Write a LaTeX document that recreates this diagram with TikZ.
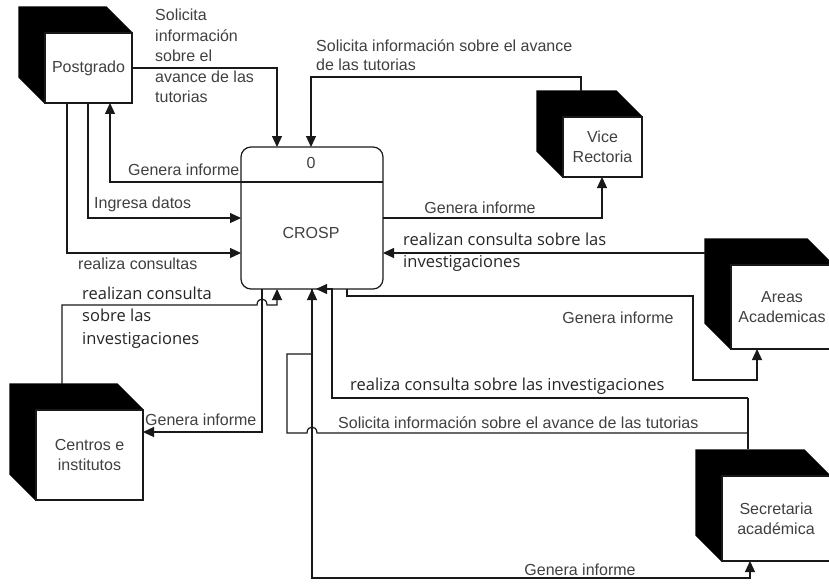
\documentclass[tikz,border=0pt]{standalone}
\usepackage{fontspec}
\setmainfont{Liberation Sans}
\newfontfamily\labelfont{Open Sans}
\usetikzlibrary{arrows.meta,calc}
\pgfdeclarelayer{back}
\pgfsetlayers{back,main}

\tikzset{
  flow/.style={draw=black!90, line width=1.2pt},
  arr/.style={flow, -{Triangle[length=11pt,width=10pt]}},
  entity/.style={draw=black!90, line width=1.2pt, fill=white, inner sep=0pt,
    text=black!75, font=\fontsize{16}{20}\selectfont, align=center},
  process/.style={draw=black!90, line width=1.2pt, rounded corners=10pt,
    inner sep=0pt, minimum width=142pt, minimum height=142pt},
  lbl/.style={text=black!75, font=\fontsize{16}{20}\selectfont, inner sep=0pt, align=left},
  lbl2/.style={text=black!85, font=\labelfont\fontsize{16.5}{22.5}\selectfont, inner sep=0pt, align=left},
}

% solid black depth behind an external entity box
\newcommand\depthfill[1]{%
  \begin{pgfonlayer}{back}
    \fill[black] (#1.south west) -- ++(-26,-26)
      -- ($(#1.north west)+(-26,-26)$) -- ($(#1.north east)+(-26,-26)$)
      -- (#1.north east) -- (#1.north west) -- cycle;
  \end{pgfonlayer}}

\begin{document}
\begin{tikzpicture}[x=1pt,y=-1pt]
\useasboundingbox (0,0) rectangle (829,583);
\begin{pgfonlayer}{back}
  \fill[white] (0,0) rectangle (829,583);
\end{pgfonlayer}
\clip (0,0) rectangle (829,583);

% external entities
\node[entity, minimum width=87pt, minimum height=70pt] (pg) at (88.5,68) {Postgrado};
\node[entity, minimum width=79pt, minimum height=60pt] (vr) at (602.5,147) {Vice\\Rectoria};
\node[entity, minimum width=102pt, minimum height=84pt] (aa) at (782,307) {Areas\\Academicas};
\node[entity, minimum width=107pt, minimum height=90pt] (ce) at (89.5,455) {Centros e\\institutos};
\node[entity, minimum width=108pt, minimum height=85pt] (sa) at (776,518.5) {Secretaria\\académica};
\depthfill{pg}\depthfill{vr}\depthfill{aa}\depthfill{ce}\depthfill{sa}

% process
\node[process] (cr) at (312,218) {};
\coordinate (dvL) at (241,182);
\coordinate (dvR) at (383,182);
\draw[flow] (dvL) -- (dvR);
\node[lbl] (num) at (311,163) {0};
\node[lbl] (crl) at (311,233) {CROSP};

% connection points
\coordinate (crT1) at (277,147);
\coordinate (crT2) at (311,147);
\coordinate (crL2) at (241,218);
\coordinate (crL3) at (241,253);
\coordinate (crR1) at (383,218);
\coordinate (crR2) at (383,253);
\coordinate (crB1) at (262,289);
\coordinate (crB2) at (277,289);
\coordinate (crB3) at (312,289);
\coordinate (crB4) at (316,289);
\coordinate (crB5) at (347,289);
\coordinate (pgB1) at (110,103);
\coordinate (pgB2) at (88,103);
\coordinate (pgB3) at (67,103);
\coordinate (vrT) at (581,91);
\coordinate (vrK) at (581,77);
\coordinate (vrB) at (602,177);
\coordinate (aaL) at (705,253);
\coordinate (aaB) at (757,349);
\coordinate (k1) at (693,296);
\coordinate (k2) at (693,380);
\coordinate (ceT) at (62,384);
\coordinate (c1) at (62,305);
\coordinate (h1L) at (257,305);
\coordinate (h1R) at (267,305);
\coordinate (c2) at (277,305);
\coordinate (ceR) at (143,432);
\coordinate (saT) at (748,449);
\coordinate (s1) at (748,398);
\coordinate (s2) at (332,289);
\coordinate (s3) at (748,433);
\coordinate (h2R) at (317,433);
\coordinate (h2L) at (307,433);
\coordinate (s4) at (287,433);
\coordinate (s5) at (312,354);
\coordinate (b1) at (312,578);
\coordinate (saB) at (750,561);

% Postgrado flows
\draw[arr] (pg.east) -| (crT1);
\draw[arr] (dvL) -| (pgB1);
\draw[arr] (pgB2) |- (crL2);
\draw[arr] (pgB3) |- (crL3);

% Vice Rectoria flows
\draw[arr] (vrT) -- (vrK) -| (crT2);
\draw[arr] (crR1) -| (vrB);

% Areas Academicas flows
\draw[arr] (aaL) -- (crR2);
\draw[arr] (crB5) |- (k1) -- (k2) -| (aaB);

% Centros e institutos flows
\draw[arr] (ceT) -- (c1) -- (h1L) .. controls (257,297) and (267,297) .. (h1R) -- (c2) -- (crB2);
\draw[arr] (crB1) |- (ceR);

% Secretaria academica flows
\draw[flow] (saT) -- (s1);
\draw[arr] (s1) -| (s2) -- (crB4);
\draw[arr] (s3) -- (h2R) .. controls (317,425) and (307,425) .. (h2L) -- (s4) |- (s5) -- (crB3);
\draw[arr] (crB3) -- (b1) -| (saB);

% flow labels
\node[lbl, anchor=west, font=\fontsize{16}{20.5}\selectfont] (t1) at (155,56) {Solicita\\información\\sobre el\\avance de las\\tutorias};
\node[lbl, anchor=west] (t2) at (128,170) {Genera informe};
\node[lbl, anchor=west] (t3) at (94,204) {Ingresa datos};
\node[lbl, anchor=west] (t4) at (78,264) {realiza consultas};
\node[lbl, anchor=west, font=\fontsize{16}{19}\selectfont] (t5) at (316,55.5) {Solicita información sobre el avance\\de las tutorias};
\node[lbl] (t6) at (480,208) {Genera informe};
\node[lbl2, anchor=west] (t7) at (403,252) {realizan consulta sobre las\\investigaciones};
\node[lbl] (t8) at (618,318) {Genera informe};
\node[lbl2, anchor=west] (t9) at (82,317.5) {realizan consulta\\sobre las\\investigaciones};
\node[lbl, anchor=west] (t10) at (145,420) {Genera informe};
\node[lbl2, anchor=west] (t11) at (350,386) {realiza consulta sobre las investigaciones};
\node[lbl, anchor=west] (t12) at (338,423) {Solicita información sobre el avance de las tutorias};
\node[lbl] (t13) at (580,570) {Genera informe};
\end{tikzpicture}
\end{document}
